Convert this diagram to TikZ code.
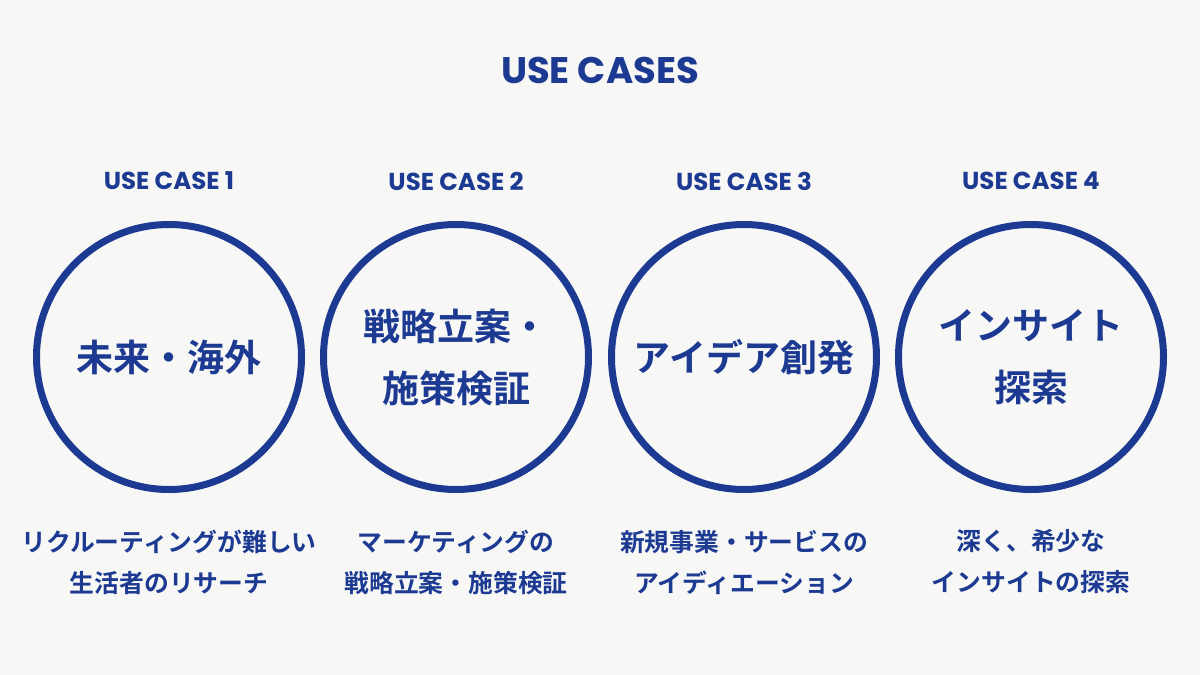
\documentclass[tikz,border=0pt]{standalone}
\usepackage{fontspec}
\setmainfont{Poppins}[UprightFont=* SemiBold, BoldFont=* Bold]
\newfontfamily\jp{Noto Sans CJK JP}[UprightFont=* Bold]
\definecolor{navy}{HTML}{1C3A92}
\definecolor{bg}{HTML}{F7F7F6}
\begin{document}
\begin{tikzpicture}[x=1pt,y=-1pt,
  ring/.style={circle,draw=navy,line width=7pt,minimum size=265pt,inner sep=0pt},
  title/.style={text=navy,font=\fontsize{37}{42}\selectfont\bfseries},
  head/.style={text=navy,font=\fontsize{24.5}{29}\selectfont\bfseries},
  big/.style={text=navy,font=\jp\fontsize{37}{62}\selectfont,align=center},
  desc/.style={text=navy,font=\jp\fontsize{24.8}{41}\selectfont,align=center}]
\fill[bg] (0,0) rectangle (1200,675);
\useasboundingbox (0,0) rectangle (1200,675);
\node[title] (t) at (600,70) {USE CASES};
\foreach \i/\x in {1/169,2/456,3/744,4/1031}{
  \node[head] (h\i) at (\x,181) {USE CASE \i};
  \node[ring] (c\i) at (\x,357) {};
}
\node[big] (b1) at (c1) {未来・海外};
\node[big] (b2) at (c2) {戦略立案・\\施策検証};
\node[big] (b3) at (c3) {アイデア創発};
\node[big] (b4) at (c4) {インサイト\\探索};
\node[desc] (d1) at (169,562) {リクルーティングが難しい\\生活者のリサーチ};
\node[desc] (d2) at (456,562) {マーケティングの\\戦略立案・施策検証};
\node[desc] (d3) at (744,562) {新規事業・サービスの\\アイディエーション};
\node[desc] (d4) at (1031,562) {深く、希少な\\インサイトの探索};
\end{tikzpicture}
\end{document}
